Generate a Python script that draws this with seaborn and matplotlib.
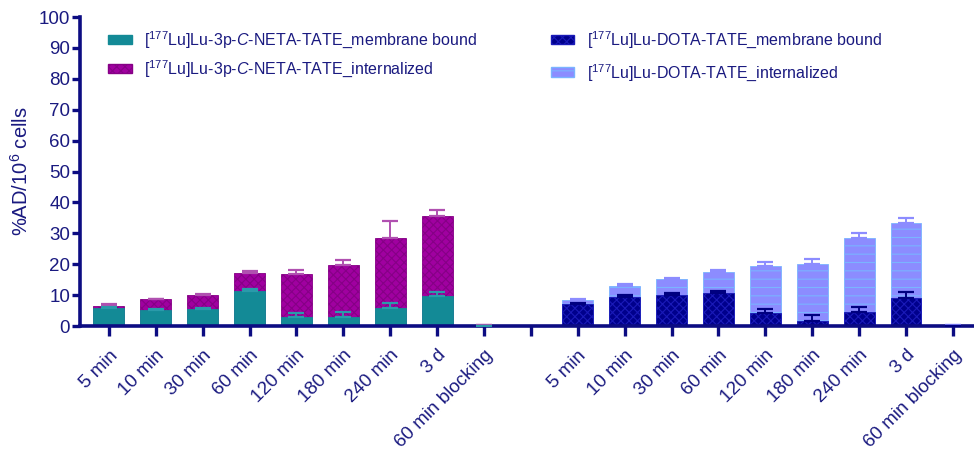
import numpy as np
import pandas as pd
import matplotlib
matplotlib.use("Agg")
import matplotlib.pyplot as plt
from matplotlib.patches import Patch
from matplotlib import font_manager
import seaborn as sns

# Time points (same for both tracers)
timepoints = ["5 min", "10 min", "30 min", "60 min", "120 min", "180 min",
              "240 min", "3 d", "60 min blocking"]

# [177Lu]Lu-3p-C-NETA-TATE (%AD/10^6 cells)
neta_membrane = [5.7, 5.3, 5.4, 11.3, 2.8, 3.0, 5.9, 9.6, 0.1]
neta_membrane_sd = [0.3, 0.3, 0.3, 0.7, 1.3, 1.4, 1.7, 1.5, 0.0]
neta_internalized = [0.9, 3.3, 4.5, 5.7, 13.9, 16.9, 22.6, 26.1, 0.2]
neta_total_sd = [0.4, 0.3, 0.3, 0.8, 1.5, 1.6, 5.5, 1.8, 0.0]

# [177Lu]Lu-DOTA-TATE (%AD/10^6 cells)
dota_membrane = [7.0, 9.5, 10.1, 10.7, 4.3, 1.7, 4.5, 9.0, 0.1]
dota_membrane_sd = [0.3, 0.4, 0.6, 0.5, 1.3, 1.9, 1.5, 1.9, 0.0]
dota_internalized = [1.4, 3.5, 5.1, 6.8, 15.1, 18.3, 24.1, 24.2, 0.1]
dota_total_sd = [0.5, 0.5, 0.3, 0.6, 1.2, 1.8, 1.4, 1.9, 0.0]

NAVY_TXT = "#1a1a80"
NAVY_AX = "#0c0c82"
TEAL = "#138a96"
MAGENTA = "#a000a0"
MAGENTA_H = "#860086"
DARKBLUE = "#00008c"
DARKBLUE_H = "#1a1ab8"
PERI = "#8c8cff"
PERI_H = "#7ab4ff"

sns.set_style("white")
plt.rcParams["font.family"] = ["Liberation Sans", "DejaVu Sans"]
plt.rcParams["mathtext.fontset"] = "custom"
plt.rcParams["mathtext.rm"] = "Liberation Sans"
plt.rcParams["mathtext.it"] = "Liberation Sans:italic"
plt.rcParams["hatch.linewidth"] = 0.8

installed = {f.name for f in font_manager.fontManager.ttflist}
legend_family = "Liberation Sans Narrow" if "Liberation Sans Narrow" in installed else "Liberation Sans"
if legend_family == "Liberation Sans Narrow":
    plt.rcParams["mathtext.rm"] = "Liberation Sans Narrow"
    plt.rcParams["mathtext.it"] = "Liberation Sans Narrow:italic"
    legend_size = 12.4
else:
    legend_size = 11.5

n = len(timepoints)
left_pos = np.arange(n)
right_pos = np.arange(n) + n + 1

neta = pd.DataFrame({
    "pos": left_pos,
    "membrane": neta_membrane,
    "top": np.add(neta_membrane, neta_internalized),
})
dota = pd.DataFrame({
    "pos": right_pos,
    "membrane": dota_membrane,
    "top": np.add(dota_membrane, dota_internalized),
})

fig = plt.figure(figsize=(9.74, 4.55), dpi=100)
ax = fig.add_axes([0.082, 0.2835, 0.918, 0.679])

W = 0.66
common = dict(native_scale=True, errorbar=None, width=W, ax=ax, linewidth=0.6)

# stacked bars: full height (internalized) first, membrane-bound portion over it
sns.barplot(data=neta, x="pos", y="top", color=MAGENTA, hatch="xxxx",
            edgecolor=MAGENTA_H, saturation=1, **common)
sns.barplot(data=neta, x="pos", y="membrane", color=TEAL,
            edgecolor=TEAL, saturation=1, **common)
sns.barplot(data=dota, x="pos", y="top", color=PERI, hatch="--",
            edgecolor=PERI_H, saturation=1, **common)
sns.barplot(data=dota, x="pos", y="membrane", color=DARKBLUE, hatch="xxxx",
            edgecolor=DARKBLUE_H, saturation=1, **common)

def upper_err(x, y, e, color):
    ax.errorbar(x, y, yerr=[np.zeros(len(e)), e], fmt="none", ecolor=color,
                elinewidth=1.4, capsize=6, capthick=1.6, zorder=5)

upper_err(neta["pos"], neta["top"], neta_total_sd, "#b050b0")
upper_err(neta["pos"], neta["membrane"], neta_membrane_sd, "#2a9aaa")
upper_err(dota["pos"], dota["top"], dota_total_sd, "#8c8cff")
upper_err(dota["pos"], dota["membrane"], dota_membrane_sd, "#000080")

ax.set_ylim(0, 100)
ax.set_xlim(-0.62, 18.45)
ax.set_yticks(np.arange(0, 101, 10))
all_pos = np.arange(2 * n + 1)
ax.set_xticks(all_pos)
ax.set_xticklabels(timepoints + [""] + timepoints, rotation=45, ha="right",
                   rotation_mode="anchor", fontsize=13.5, color=NAVY_TXT)
ax.tick_params(axis="y", labelsize=13.5, labelcolor=NAVY_TXT, color=NAVY_AX,
               length=6, width=2.4, direction="out", pad=1, left=True)
ax.tick_params(axis="x", color=NAVY_AX, length=7, width=2.4,
               direction="out", pad=8, bottom=True)
ax.set_xlabel("")
ax.set_ylabel("%AD/10$^6$ cells", fontsize=14.5, color=NAVY_TXT, labelpad=5)

for side in ("top", "right"):
    ax.spines[side].set_visible(False)
for side in ("left", "bottom"):
    ax.spines[side].set_color(NAVY_AX)
    ax.spines[side].set_linewidth(2.6)

h_neta = [
    Patch(facecolor=TEAL, edgecolor=TEAL, label="[$^{177}$Lu]Lu-3p-$\\it{C}$-NETA-TATE_membrane bound"),
    Patch(facecolor=MAGENTA, edgecolor=MAGENTA_H, hatch="xxxx",
          label="[$^{177}$Lu]Lu-3p-$\\it{C}$-NETA-TATE_internalized"),
]
h_dota = [
    Patch(facecolor=DARKBLUE, edgecolor=DARKBLUE_H, hatch="xxxx",
          label="[$^{177}$Lu]Lu-DOTA-TATE_membrane bound"),
    Patch(facecolor=PERI, edgecolor=PERI_H, hatch="--",
          label="[$^{177}$Lu]Lu-DOTA-TATE_internalized"),
]
leg_props = {"family": legend_family, "size": legend_size}
leg1 = fig.legend(handles=h_neta, loc="upper left", bbox_to_anchor=(0.0965, 0.967),
                  frameon=False, prop=leg_props, handlelength=1.45, handleheight=0.55,
                  handletextpad=0.8, labelspacing=0.5, labelcolor=NAVY_TXT)
leg2 = fig.legend(handles=h_dota, loc="upper left", bbox_to_anchor=(0.551, 0.967),
                  frameon=False, prop=leg_props, handlelength=1.45, handleheight=0.55,
                  handletextpad=0.8, labelspacing=0.72, labelcolor=NAVY_TXT)

fig.savefig("out.png", dpi=100)
